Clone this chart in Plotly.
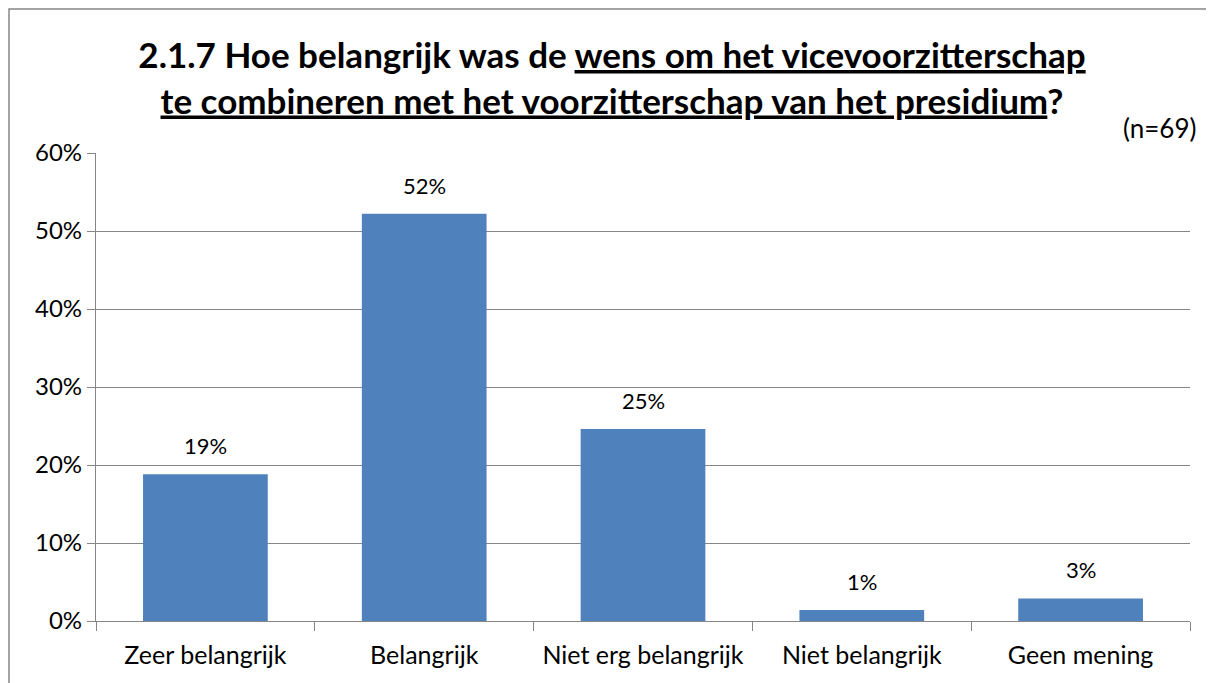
import plotly.graph_objects as go

categories = ["Zeer belangrijk", "Belangrijk", "Niet erg belangrijk", "Niet belangrijk", "Geen mening"]
values = [18.8, 52.2, 24.6, 1.4, 2.9]
labels = ["19%", "52%", "25%", "1%", "3%"]
yticks = [0, 10, 20, 30, 40, 50, 60]
yticklabels = ["0%", "10%", "20%", "30%", "40%", "50%", "60%"]

FONT = "Lato, 'Open Sans', sans-serif"
OFF = 8  # page body margin
W, H = 1214, 683
L, T = 96 - OFF, 153 - OFF
Rx, By = 1190 - OFF, 621 - OFF
R, B = W - Rx, H - By
pw, ph = Rx - L, By - T

fig = go.Figure(go.Bar(
    x=categories, y=values,
    marker=dict(color="#4F81BD", line=dict(width=0)),
    width=0.57, hoverinfo="x+y",
))

annots = [dict(
    x=c, y=v, text=t, xref="x", yref="y", showarrow=False,
    yanchor="bottom", yshift=13,
    font=dict(size=22, family=FONT, color="#000000"),
) for c, v, t in zip(categories, values, labels)]

annots.append(dict(
    text="(n=69)", xref="paper", yref="paper",
    x=(1198 - OFF - L) / pw, y=(By - (128 - OFF)) / ph, xanchor="right", yanchor="middle",
    showarrow=False, font=dict(size=26, family=FONT, color="#000000"),
))

fig.update_layout(
    width=W, height=H,
    margin=dict(l=L, r=R, t=T, b=B),
    paper_bgcolor="white", plot_bgcolor="white",
    showlegend=False,
    font=dict(family=FONT, color="#000000"),
    title=dict(
        text="<b>2.1.7 Hoe belangrijk was de <u>wens om het vicevoorzitterschap</u><br><u>te combineren met het voorzitterschap van het presidium</u>?</b>",
        x=(612 - OFF) / W, xanchor="center", y=1 - (68 - OFF) / H, yanchor="middle",
        font=dict(size=35, family=FONT, color="#000000"),
    ),
    xaxis=dict(
        showline=True, linecolor="#868686", linewidth=1.3,
        ticks="outside", tickson="boundaries", ticklen=9, tickcolor="#868686",
        tickfont=dict(size=25, family=FONT), showgrid=False,
        ticklabelstandoff=12,
    ),
    yaxis=dict(
        range=[0, 60], tickvals=yticks, ticktext=yticklabels,
        showline=True, linecolor="#868686", linewidth=1.3,
        ticks="outside", ticklen=8, tickcolor="#868686",
        showgrid=True, gridcolor="#868686", gridwidth=1.1,
        tickfont=dict(size=24, family=FONT), zeroline=False,
    ),
    annotations=annots,
    shapes=[dict(
        type="rect", xref="paper", yref="paper",
        x0=(1 - L) / pw, x1=(1260 - L) / pw,
        y0=(By - 720) / ph, y1=(By - 1) / ph,
        line=dict(color="#868686", width=1.5), fillcolor="rgba(0,0,0,0)",
        layer="below",
    )],
)

fig.write_html("out.html")
